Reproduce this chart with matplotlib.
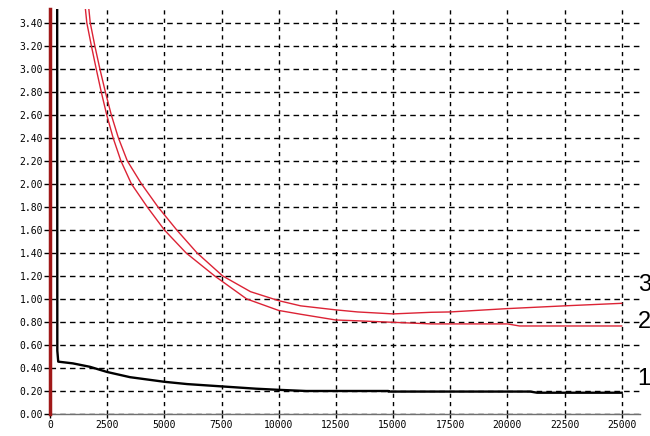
import matplotlib
matplotlib.use("Agg")
import matplotlib.pyplot as plt
import numpy as np

# ---- data ----
x_ticks = [0, 2500, 5000, 7500, 10000, 12500, 15000, 17500, 20000, 22500, 25000]
y_ticks = [0.0, 0.2, 0.4, 0.6, 0.8, 1.0, 1.2, 1.4, 1.6, 1.8, 2.0, 2.2, 2.4, 2.6, 2.8, 3.0, 3.2, 3.4]

s1_x = [290, 300, 320, 360, 1000, 1750, 2500, 3500, 5000, 6000, 7500, 9000, 10000,
        11200, 14800, 14800, 21000, 21300, 25000]
s1_y = [40, 10, 0.55, 0.455, 0.44, 0.41, 0.365, 0.32, 0.28, 0.26, 0.24, 0.22, 0.21,
        0.20, 0.20, 0.195, 0.195, 0.185, 0.185]

s2_x = [0, 0, 700, 1200, 1610, 1810, 2020, 2240, 2480, 2760, 3100, 3560, 4250, 5000,
        5950, 7200, 8600, 10000, 10960, 12500, 13450, 15000, 16670, 20000, 20530, 25000]
s2_y = [0, 40, 6.0, 4.2, 3.40, 3.20, 3.00, 2.80, 2.60, 2.40, 2.20, 2.00, 1.80, 1.60,
        1.40, 1.20, 1.00, 0.90, 0.867, 0.817, 0.81, 0.797, 0.783, 0.783, 0.765, 0.765]

s3_x = [0, 0, 800, 1300, 1760, 1960, 2180, 2420, 2680, 2990, 3380, 4000, 4720, 5540,
        6430, 7550, 8770, 10000, 10960, 12500, 13450, 15000, 16670, 17500, 20000, 22500, 25000]
s3_y = [0, 40, 6.0, 4.3, 3.40, 3.20, 3.00, 2.80, 2.60, 2.40, 2.20, 2.00, 1.80, 1.60,
        1.40, 1.20, 1.063, 0.985, 0.94, 0.905, 0.887, 0.87, 0.884, 0.887, 0.916, 0.94, 0.962]

series_labels = ["1", "2", "3"]
label_y = [0.30, 0.80, 1.12]

# ---- figure ----
fig = plt.figure(figsize=(6.5, 4.36), dpi=100)
ax = fig.add_axes([50 / 650, 22 / 436, 590 / 650, 405 / 436])

ax.set_xlim(0, 25800)
ax.set_ylim(0, 3.52)

red = "#DC2335"
ax.plot(s2_x, s2_y, color=red, lw=1.0, zorder=3)
ax.plot(s3_x, s3_y, color=red, lw=1.0, zorder=3)
ax.plot(s1_x, s1_y, color="black", lw=1.7, zorder=4)

ax.set_xticks(x_ticks)
ax.set_yticks(y_ticks)
ax.set_xticklabels([str(v) for v in x_ticks])
ax.set_yticklabels(["%.2f" % v for v in y_ticks])

ax.grid(axis="y", color="black", linestyle=(0, (4, 3)), linewidth=1.0, zorder=1)
ax.grid(axis="x", color="black", linestyle=(0, (3, 3)), linewidth=1.0, zorder=1)
ax.set_axisbelow(True)

for sp in ["top", "right"]:
    ax.spines[sp].set_visible(False)
ax.spines["left"].set_color("#A01818")
ax.spines["left"].set_linewidth(2.5)
ax.spines["left"].set_zorder(5)
ax.spines["bottom"].set_color("#707070")
ax.spines["bottom"].set_linewidth(1.0)

mono = "DejaVu Sans Mono"
ax.tick_params(axis="y", length=4, width=1, color="black", pad=1,
               labelsize=7, labelfontfamily=mono)
ax.tick_params(axis="x", length=3, width=1, color="black", pad=1,
               labelsize=7, labelfontfamily=mono)

for lab, yv in zip(series_labels, label_y):
    ax.text(25700, yv, lab, fontsize=17, family="Liberation Sans",
            ha="left", va="center", clip_on=False)

fig.savefig("out.png", dpi=100)
